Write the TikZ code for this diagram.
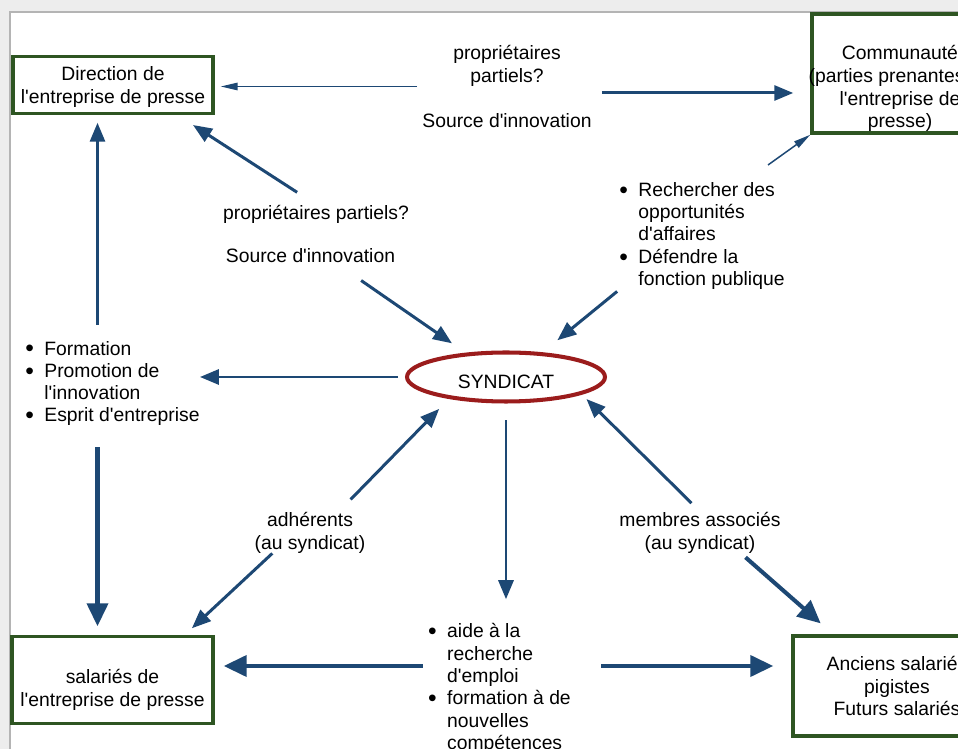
\documentclass[tikz,border=0pt]{standalone}
\usepackage{fontspec}
\setmainfont{Liberation Sans}[Ligatures=TeXOff]
\usetikzlibrary{arrows.meta,shapes.geometric,calc}
\definecolor{bleuFleche}{HTML}{1D4874}
\definecolor{vertCadre}{HTML}{2E5522}
\definecolor{rougeSyndicat}{HTML}{9B1C1C}
\definecolor{fondGris}{HTML}{EDEDED}
\definecolor{bordGris}{HTML}{B4B4B4}
\newcommand\puce{\makebox[0.38cm][l]{\raisebox{-1pt}{\fontsize{14pt}{14pt}\selectfont\textbullet}}}
\newcommand\retrait{\hspace*{0.38cm}}
\tikzset{
  finefleche/.style={-{Triangle[length=0.34cm,width=0.15cm]}, line width=0.85pt, bleuFleche},
  fleche/.style={-{Triangle[length=0.38cm,width=0.3cm]}, line width=1.7pt, bleuFleche},
  grossefleche/.style={-{Triangle[length=0.46cm,width=0.42cm]}, line width=2.3pt, bleuFleche},
  boite/.style={draw=vertCadre, line width=2pt, fill=white, align=center, inner sep=0pt},
  syndic/.style={ellipse, draw=rougeSyndicat, line width=2.3pt, fill=white,
    minimum width=3.96cm, minimum height=0.98cm, inner sep=0pt,
    text height=13.5pt, text depth=0pt},
  etiq/.style={align=center, inner sep=0pt},
  liste/.style={align=left, inner sep=0pt, font=\fontsize{11pt}{12.7pt}\selectfont}
}
\begin{document}
\begin{tikzpicture}[x=0.02cm,y=-0.02cm,font=\fontsize{11pt}{13pt}\selectfont]
  % cadre de la capture
  \useasboundingbox (0,0) rectangle (958,749);
  \clip (0,0) rectangle (958,749);
  \fill[fondGris] (0,0) rectangle (958,749);
  \draw[bordGris, fill=white, line width=0.6pt] (10,12) rectangle (990,780);

  % acteurs
  \node[boite, minimum width=4cm, minimum height=1.14cm] (dir) at (113,85) {};
  \node[etiq] (dirtxt) at (113,87) {Direction de\\l'entreprise de presse};
  \node[boite, minimum width=3.4cm, minimum height=2.38cm] (comm) at (897,73.5) {};
  \node[etiq] (commtxt) at (900,88.5) {Communauté\\(parties prenantes de\\l'entreprise de\\presse)};
  \node[boite, minimum width=4.02cm, minimum height=1.74cm] (sal) at (112.5,680) {};
  \node[etiq] (saltxt) at (112.5,689.5) {salariés de\\l'entreprise de presse};
  \node[boite, minimum width=4.16cm, minimum height=2cm] (anc) at (897,686) {Anciens salariés\\pigistes\\Futurs salariés};
  \node[syndic] (syn) at (506,377) {SYNDICAT};

  % etiquettes
  \node[etiq] (prop) at (507,86.5) {propriétaires\\partiels?\\[13pt]Source d'innovation};
  \node[etiq] (prop2) at (316,214) {propriétaires partiels?};
  \node[etiq] (innov2) at (310.5,256) {Source d'innovation};
  \node[etiq] (adh) at (310,532.5) {adhérents\\(au syndicat)};
  \node[etiq] (memb) at (700,532.5) {membres associés\\(au syndicat)};

  % listes
  \node[liste] (actions) at (112.5,383.5) {\puce Formation\\\puce Promotion de\\\retrait l'innovation\\\puce Esprit d'entreprise};
  \node[liste] (affaires) at (702,236) {\puce Rechercher des\\\retrait opportunités\\\retrait d'affaires\\\puce Défendre la\\\retrait fonction publique};
  \node[liste] (emploi) at (499.5,688.5) {\puce aide à la\\\retrait recherche\\\retrait d'emploi\\\puce formation à de\\\retrait nouvelles\\\retrait compétences};

  % fleches du haut
  \draw[finefleche, shorten <=0.1cm, shorten >=0.12cm] (prop.west) -- (prop.west -| dir.east);
  \coordinate (d1) at ([yshift=-0.13cm]prop.east);
  \draw[fleche, shorten <=0.2cm, shorten >=0.34cm] (d1) -- (d1 -| comm.west);
  \coordinate (c3) at (768,165);
  \draw[finefleche] (c3) -- (comm.south west);
  \draw[fleche, shorten <=0.45cm, shorten >=0.36cm] (prop2.north) -- (dir.-25);
  \draw[fleche, shorten <=0.6cm, shorten >=0.33cm] (innov2.-16) -- (syn.149);
  \draw[fleche, shorten <=0.05cm, shorten >=0.38cm] (affaires.213) -- (syn.34);

  % colonne de gauche
  \coordinate (v1) at ([xshift=-0.3cm]actions.north);
  \draw[fleche, shorten <=0.32cm, shorten >=0.15cm] (v1) -- (v1 |- dir.south);
  \draw[fleche, shorten <=0.14cm] (syn.west) -- (syn.west -| actions.east);
  \coordinate (v2) at ([xshift=-0.3cm]actions.south);
  \draw[grossefleche, shorten <=0.42cm, shorten >=0.17cm] (v2) -- (v2 |- sal.north);

  % fleches du bas
  \draw[fleche, shorten <=0.34cm, shorten >=0.28cm] (adh.36) -- (syn.201);
  \draw[fleche, shorten >=0.19cm] (adh.209) -- (sal.32);
  \draw[fleche, shorten <=0.33cm, shorten >=0.48cm] (syn.south) -- (syn.south |- emploi.north);
  \draw[fleche, shorten <=0.24cm, shorten >=0.13cm] (memb.north) -- (syn.-13);
  \draw[grossefleche, shorten <=0.12cm, shorten >=0.33cm] (memb.-27) -- (anc.141);
  \coordinate (h1) at ([yshift=0.28cm]sal.east);
  \draw[grossefleche, shorten <=0.1cm, shorten >=0.18cm] (h1 -| emploi.west) -- (h1);
  \coordinate (h2) at ([yshift=0.4cm]anc.west);
  \draw[grossefleche, shorten <=0.6cm, shorten >=0.36cm] (h2 -| emploi.east) -- (h2);
\end{tikzpicture}
\end{document}
